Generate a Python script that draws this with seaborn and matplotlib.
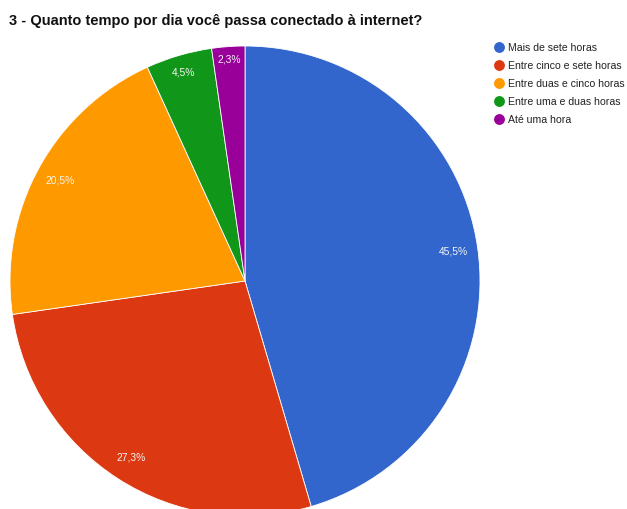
import matplotlib
matplotlib.use("Agg")
import numpy as np
import matplotlib.pyplot as plt
from matplotlib.lines import Line2D
import seaborn as sns

categories = ["Mais de sete horas", "Entre cinco e sete horas", "Entre duas e cinco horas",
              "Entre uma e duas horas", "Até uma hora"]
responses = [20, 12, 9, 2, 1]
colors_hex = ["#3366cc", "#dc3912", "#ff9900", "#109618", "#990099"]
title = "3 - Quanto tempo por dia você passa conectado à internet?"

sns.set_theme(style="white")
plt.rcParams["font.family"] = ["Liberation Sans", "DejaVu Sans"]
palette = sns.color_palette(colors_hex)

W, H = 627, 509
fig = plt.figure(figsize=(W / 100, H / 100), dpi=100)

# pie centred at (245, 281) px with radius 235 px
cx, cy, r = 245, 281, 235
ax = fig.add_axes([(cx - r) / W, (H - cy - r) / H, 2 * r / W, 2 * r / H])


def fmt(p):
    return f"{p:.1f}%".replace(".", ",")


wedges, texts, autotexts = ax.pie(
    responses, colors=palette, startangle=90, counterclock=False,
    radius=1.0, autopct=fmt, pctdistance=0.895,
    wedgeprops=dict(edgecolor="white", linewidth=0.6),
    textprops=dict(color="#f4f4f4", fontsize=7.4),
)

# thin slices: push their labels a bit closer to the rim
total = sum(responses)
for w, t, v in zip(wedges, autotexts, responses):
    if v / total < 0.05:
        ang = np.deg2rad((w.theta1 + w.theta2) / 2)
        d = 0.925 if v / total > 0.03 else 0.945
        t.set_position((d * np.cos(ang), d * np.sin(ang)))

ax.set_xlim(-1, 1)
ax.set_ylim(-1, 1)
ax.set_aspect("auto")
ax.axis("off")

fig.text(9 / W, 1 - 21 / H, title, fontsize=10.5, fontweight="bold",
         color="#111111", va="center", ha="left")

handles = [Line2D([0], [0], marker="o", linestyle="", markersize=6.8,
                  markerfacecolor=c, markeredgecolor=c) for c in palette]
fig.legend(handles, categories, loc="upper left",
           bbox_to_anchor=(494 / W, 1 - 43 / H), frameon=False,
           fontsize=7.6, handletextpad=0.35, labelspacing=0.75,
           handlelength=1.0, borderaxespad=0, borderpad=0,
           labelcolor="#222222")

fig.savefig("out.png", dpi=100)
